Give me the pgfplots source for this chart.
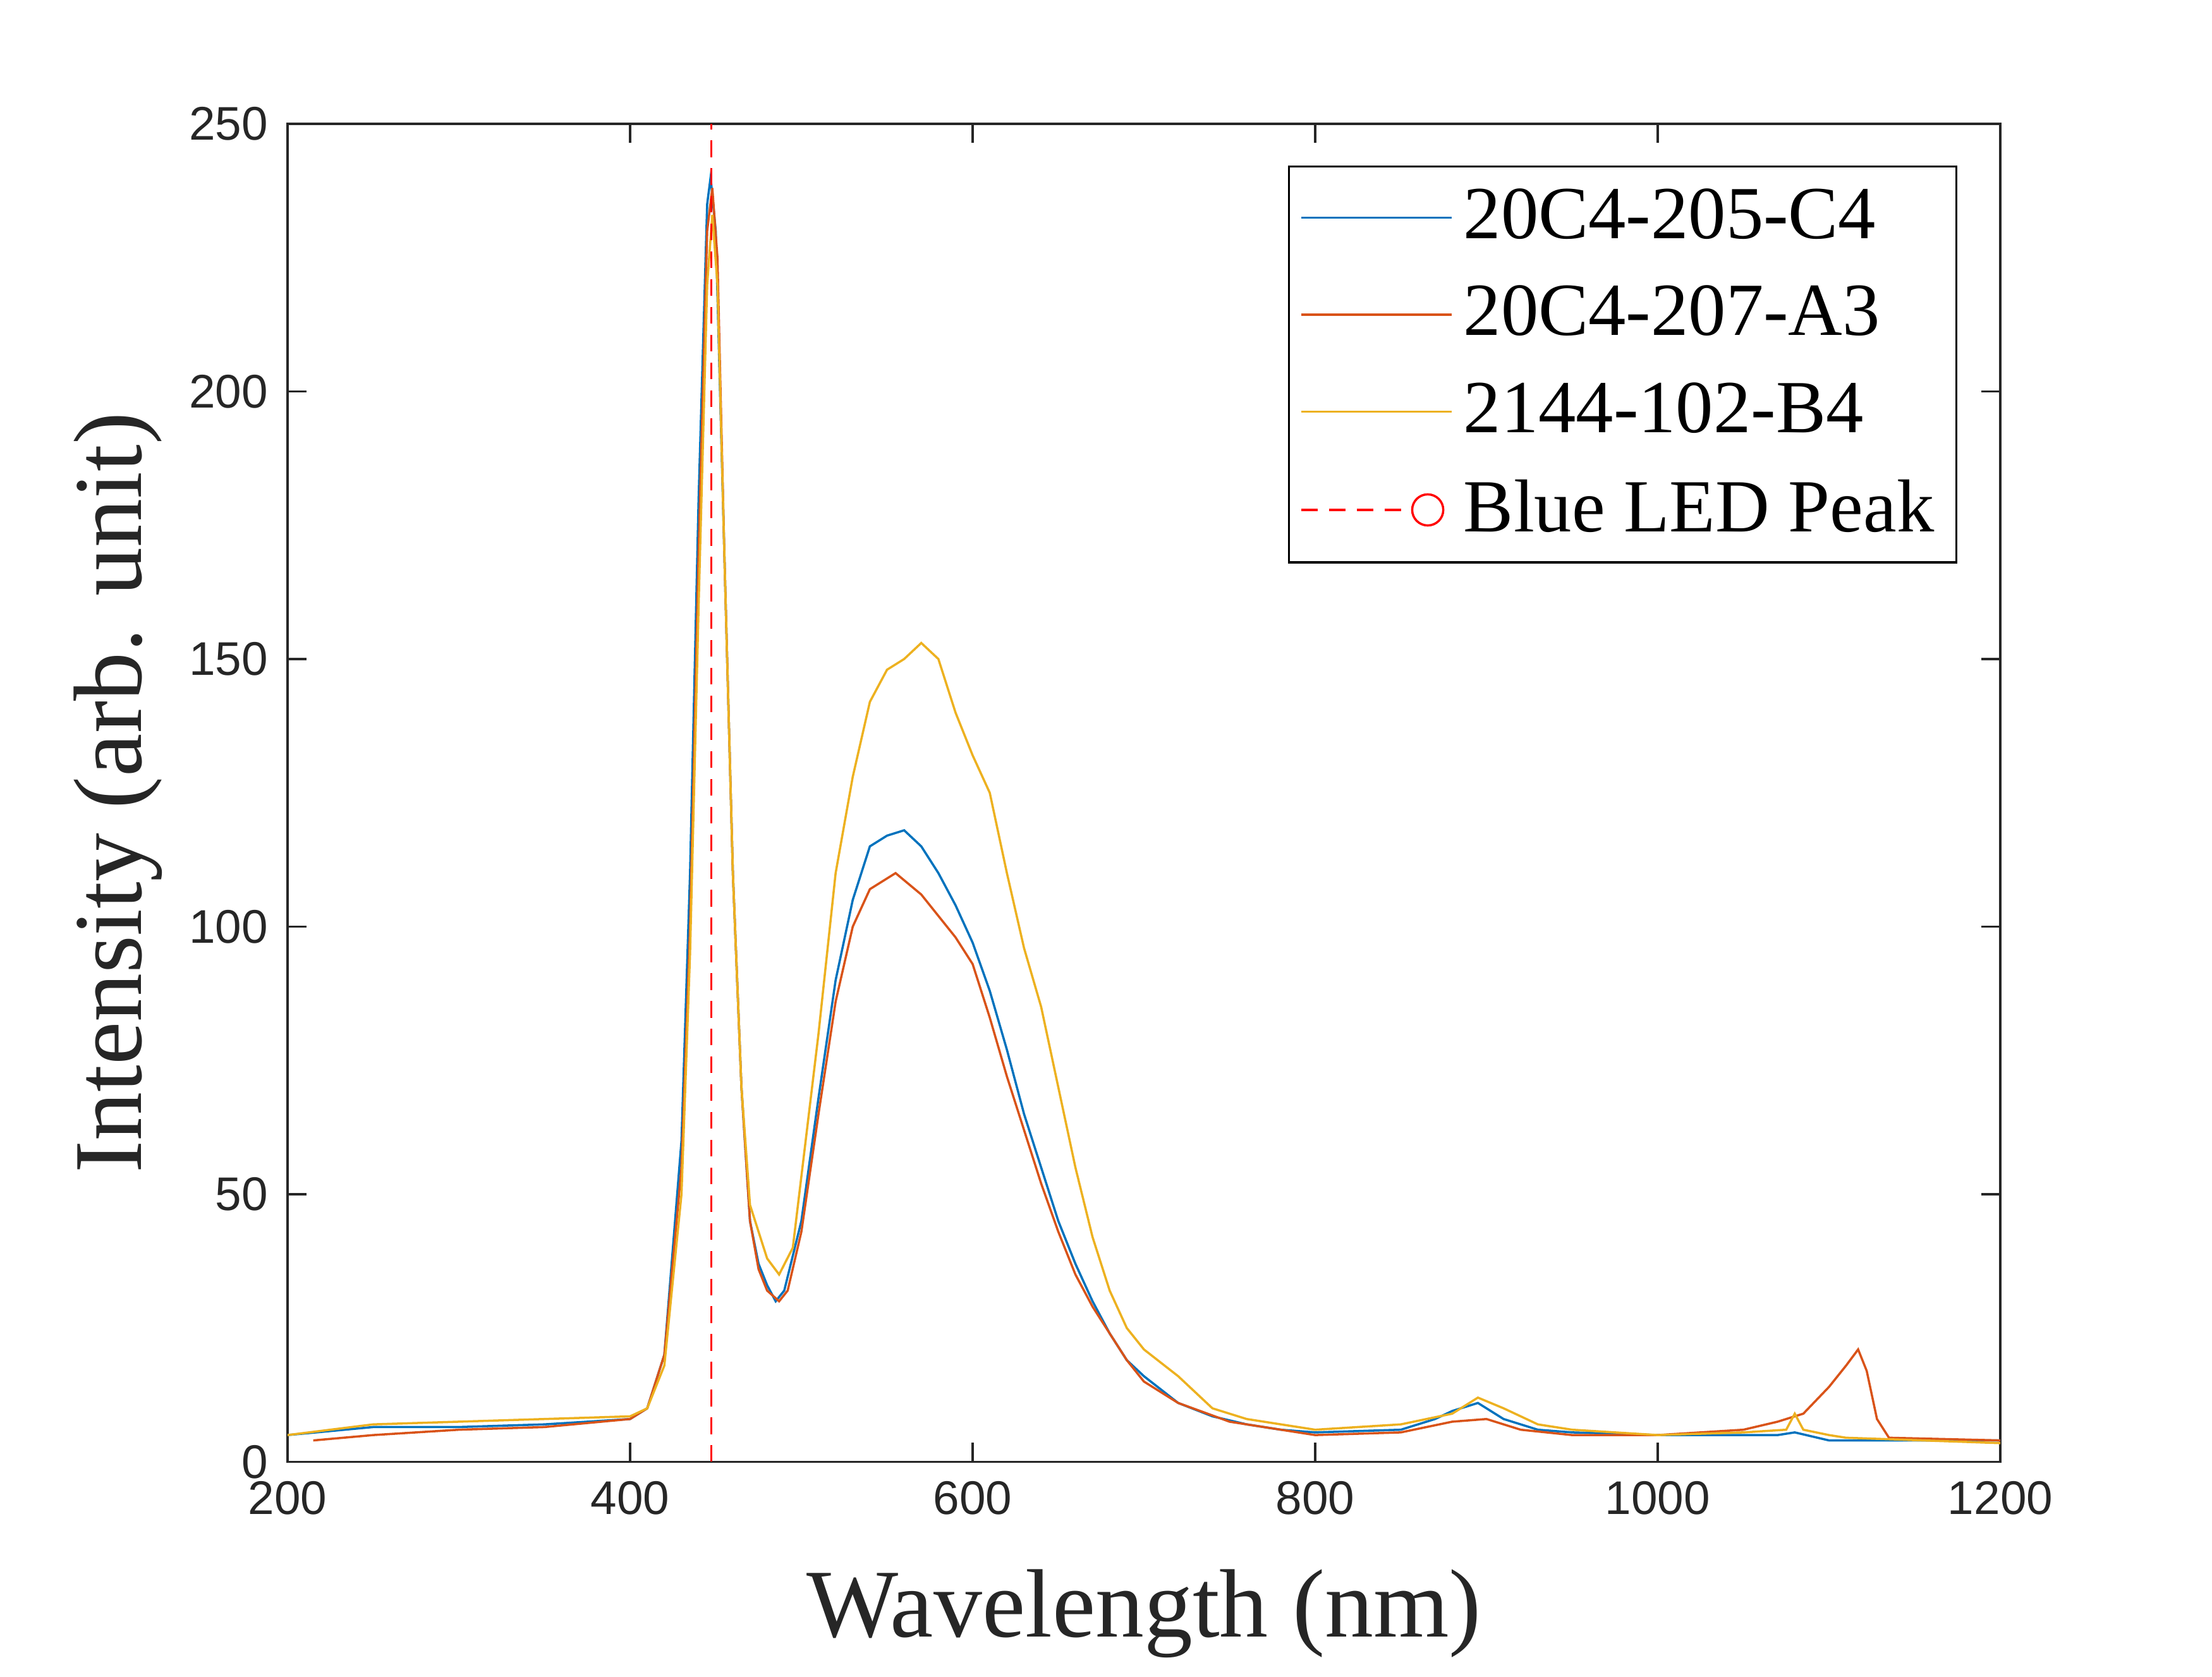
\documentclass[border=0pt]{standalone}
\usepackage{pgfplots}
\pgfplotsset{compat=1.18}
\usepackage{fontspec}
\setmainfont{Liberation Serif}
\newfontfamily\arial{Liberation Sans}
\definecolor{mb}{RGB}{0,114,189}
\definecolor{mo}{RGB}{217,83,25}
\definecolor{my}{RGB}{237,177,32}
\begin{document}
\begin{tikzpicture}
\begin{axis}[
  scale only axis, width=10.84cm, height=8.47cm,
  xmin=200, xmax=1200, ymin=0, ymax=250,
  xtick={200,400,...,1200}, ytick={0,50,...,250},
  tick align=inside, tick pos=both,
  major tick length=0.12cm,
  axis line style={black!85}, every tick/.style={black!85},
  ticklabel style={font=\arial\fontsize{8.5}{10}\selectfont, text=black!85},
  /pgf/number format/assume math mode=true,
  /pgf/number format/1000 sep={},
  xlabel={Wavelength (nm)}, ylabel={Intensity (arb. unit)},
  label style={font=\fontsize{17.5}{20}\selectfont, text=black!85},
  xlabel style={yshift=-3pt},
  ylabel style={yshift=-2pt},
  legend style={at={(rel axis cs:0.975,0.969)}, anchor=north east,
    font=\fontsize{13.5}{15}\selectfont, draw=black, inner sep=2pt,
    row sep=3pt},
  legend cell align=left,
  legend image code/.code={\draw[#1] (0cm,0cm)--(0.95cm,0cm);},
  clip=false,
]
\addplot[mb, thin] coordinates {(200,5)(250,6.5)(300,6.5)(350,7)(400,8)(410,10)(420,20)(430,60)(435,110)(440,180)(445,235)(447,240)(450,230)(455,170)(460,110)(465,70)(470,45)(475,37)(480,33)(485,30)(490,32)(500,45)(510,68)(520,90)(530,105)(540,115)(550,117)(560,118)(570,115)(580,110)(590,104)(600,97)(610,88)(620,77)(630,65)(640,55)(650,45)(660,37)(670,30)(680,24)(690,19)(700,16)(720,11)(740,8.5)(760,7)(780,6)(800,5.5)(850,6)(870,8)(880,9.5)(895,11)(910,8)(930,6)(950,5.5)(1000,5)(1050,5)(1070,5)(1080,5.5)(1100,4)(1200,4)};
\addlegendentry{20C4-205-C4}
\addplot[mo, thin] coordinates {(215,4)(250,5)(300,6)(350,6.5)(400,8)(410,10)(420,20)(430,55)(435,100)(440,170)(445,230)(448,238)(451,225)(455,170)(460,110)(465,70)(470,45)(475,36)(480,32)(487,30)(492,32)(500,43)(510,65)(520,86)(530,100)(540,107)(555,110)(570,106)(580,102)(590,98)(600,93)(610,83)(620,72)(630,62)(640,52)(650,43)(660,35)(670,29)(680,24)(690,19)(700,15)(720,11)(750,7.5)(800,5)(850,5.5)(880,7.5)(900,8)(920,6)(950,5)(1000,5)(1050,6)(1070,7.5)(1085,9)(1100,14)(1110,18)(1117,21)(1122,17)(1128,8)(1135,4.5)(1200,4)};
\addlegendentry{20C4-207-A3}
\addplot[my, thin] coordinates {(200,5)(250,7)(300,7.5)(350,8)(400,8.5)(410,10)(420,18)(430,50)(435,95)(440,160)(445,220)(448,233)(451,220)(455,170)(460,110)(465,70)(470,48)(480,38)(487,35)(495,40)(510,80)(520,110)(530,128)(540,142)(550,148)(560,150)(570,153)(580,150)(590,140)(600,132)(610,125)(620,110)(630,96)(640,85)(650,70)(660,55)(670,42)(680,32)(690,25)(700,21)(720,16)(740,10)(760,8)(800,6)(850,7)(880,9)(895,12)(910,10)(930,7)(950,6)(1000,5)(1050,5.5)(1075,6)(1080,9)(1085,6)(1100,5)(1110,4.5)(1200,3.5)};
\addlegendentry{2144-102-B4}
\addplot[red, densely dashed, thin, legend image code/.code={\draw[red,densely dashed,thin](0cm,0cm)--(0.7cm,0cm); \draw[red,thin,solid](0.8cm,0cm) circle(2.8pt);}] coordinates {(447.5,0)(447.5,250)};
\addlegendentry{Blue LED Peak}
\path (rel axis cs:0,0) ++(-1.82cm,-1.25cm) coordinate (bl);
\path (rel axis cs:1,1) ++(1.34cm,0.784cm) coordinate (tr);
\end{axis}
\useasboundingbox (bl) rectangle (tr);
\end{tikzpicture}
\end{document}
